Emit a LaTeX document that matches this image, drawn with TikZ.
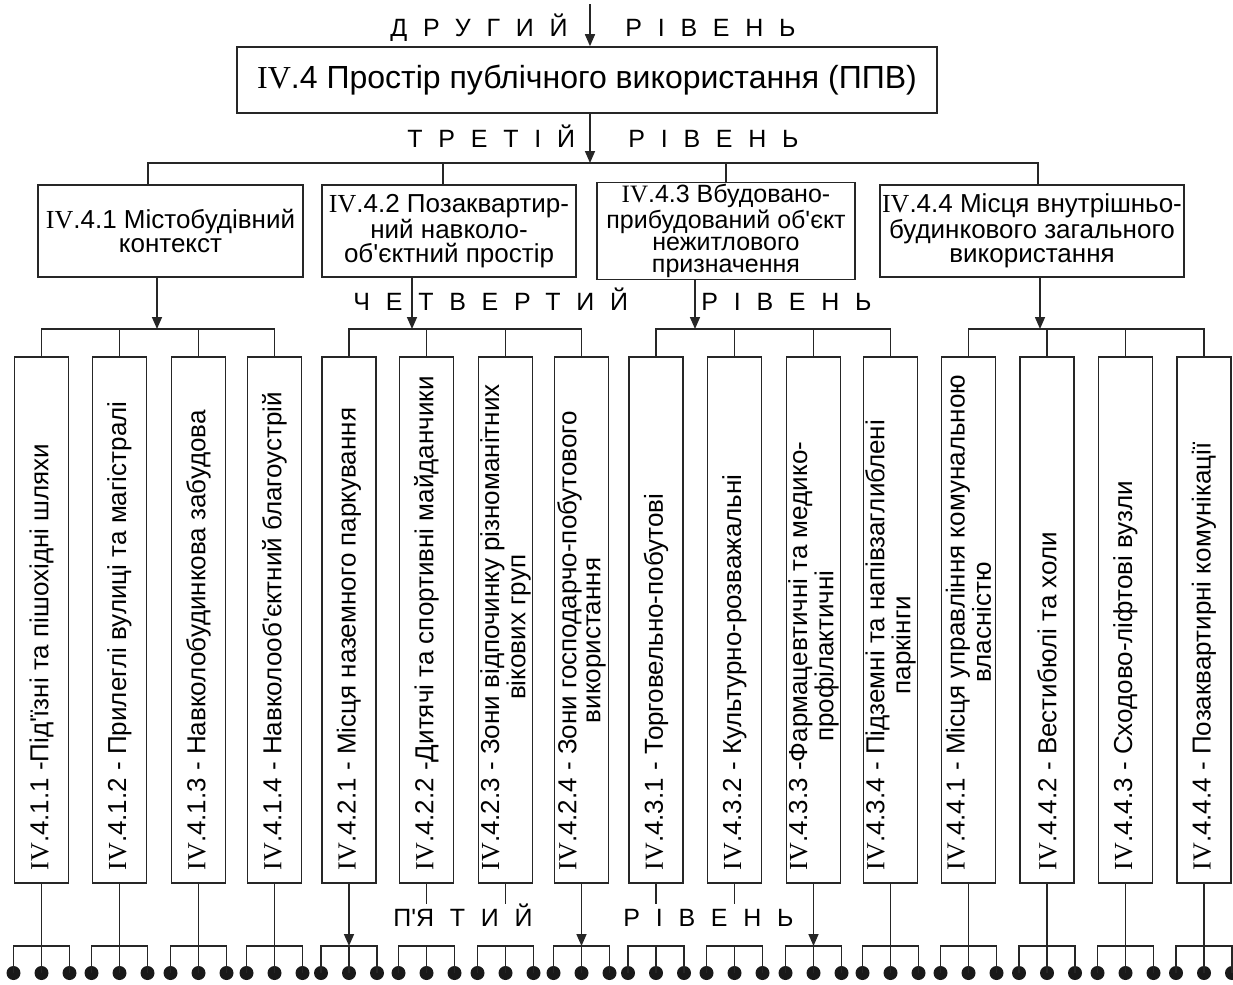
\documentclass[tikz,border=0pt]{standalone}
\usepackage{fontspec}
\setmainfont{Liberation Sans}
\newfontfamily\romfont{Liberation Serif}
\usetikzlibrary{arrows.meta}

\newcommand\rn{{\romfont IV}}
\newcommand\apos{\textquotesingle}

\tikzset{
  lw/.style={line width=0.8pt, draw=black!85},
  arr/.style={lw, -{Triangle[length=6pt,width=5pt]}},
  lvl/.style={anchor=base west, inner sep=0pt, font=\fontsize{12.5}{14}\selectfont\addfontfeature{LetterSpace=63}},
  topbox/.style={lw, minimum width=350pt, minimum height=33pt, font=\fontsize{16}{18}\selectfont},
  midbox/.style={lw, minimum height=46pt, inner sep=1pt, align=center, font=\fontsize{13}{12}\selectfont},
  subbox/.style={lw, minimum width=27pt, minimum height=263pt},
  subtxt/.style={rotate=90, anchor=west, inner xsep=6.5pt, inner ysep=0pt, align=center, font=\fontsize{13}{12}\selectfont},
  dot/.style={circle, fill=black!90, inner sep=0pt, minimum size=7pt},
}

\begin{document}
\begin{tikzpicture}[x=0.5pt,y=-0.5pt]
\useasboundingbox (0,0) rectangle (1233,985);

% level 2
\coordinate (top) at (590,4);
\node[topbox] (a) at (587,80) {\rn.4 Простір публічного використання (ППВ)};
\draw[arr] (top) -- (top |- a.north);
\node[lvl] (d2a) at (390,36) {ДРУГИЙ};
\node[lvl] (d2b) at (625,36) {РІВЕНЬ};

% level 3
\coordinate (j3) at (590,163);
\draw[arr] (j3 |- a.south) -- (j3);
\node[lvl] (d3a) at (407,147) {ТРЕТІЙ};
\node[lvl] (d3b) at (628,147) {РІВЕНЬ};
\node[midbox, minimum width=132.5pt] (b1) at (170.5,231) {\rn.4.1 Містобудівний\\контекст};
\node[midbox, minimum width=127pt] (b2) at (449,231) {\rn.4.2 Позаквартир-\\ний навколо-\\об\apos єктний простір};
\node[midbox, minimum width=129pt, font=\fontsize{12.5}{11}\selectfont] (b3) at (726,231) {\rn.4.3 Вбудовано-\\прибудований об\apos єкт\\нежитлового\\призначення};
\node[midbox, minimum width=142pt] (b4) at (1032,231) {\rn.4.4 Місця внутрішньо-\\будинкового загального\\використання};
\draw[lw] ([xshift=-11.25pt]b1.north) |- (j3) -| ([xshift=3pt]b4.north);
\draw[lw] ([xshift=-3pt]b2.north) -- ([xshift=-3pt]b2.north |- j3);
\draw[lw] (b3.north) -- (b3.north |- j3);

% level 4
\coordinate (bar4) at (0,329);
\node[lvl] (d4a) at (353,310) {ЧЕТВЕРТИЙ};
\node[lvl] (d4b) at (701,310) {РІВЕНЬ};
\foreach \n/\x/\t in {
  11/41.5/{\rn.4.1.1 -Під\apos їзні та пішохідні шляхи},
  12/119.5/{\rn.4.1.2 - Прилеглі вулиці та магістралі},
  13/198.5/{\rn.4.1.3 - Навколобудинкова забудова},
  14/274.5/{\rn.4.1.4 - Навколооб\apos єктний благоустрій},
  21/349/{\rn.4.2.1 - Місця наземного паркування},
  22/426.5/{\rn.4.2.2 -Дитячі та спортивні майданчики},
  23/505.5/{\rn.4.2.3 - Зони відпочинку різноманітних\\вікових груп},
  24/581.5/{\rn.4.2.4 - Зони господарчо-побутового\\використання},
  31/656/{\rn.4.3.1 - Торговельно-побутові},
  32/734.5/{\rn.4.3.2 - Культурно-розважальні},
  33/813.5/{\rn.4.3.3 -Фармацевтичні та медико-\\профілактичні},
  34/890.5/{\rn.4.3.4 - Підземні та напівзаглиблені\\паркінги},
  41/968.5/{\rn.4.4.1 - Місця управління комунальною\\власністю},
  42/1047/{\rn.4.4.2 - Вестибюлі та холи},
  43/1125.5/{\rn.4.4.3 - Сходово-ліфтові вузли},
  44/1204/{\rn.4.4.4 - Позаквартирні комунікації}}{
  \node[subbox] (c\n) at (\x,620) {};
  \node[subtxt] (t\n) at (c\n.south) {\t};
}
\foreach \g in {1,2,3,4} {
  \draw[lw] (c\g1.north) |- (bar4 -| c\g4.north) -- (c\g4.north);
  \foreach \k in {2,3}
    \draw[lw] (c\g\k.north) -- (c\g\k.north |- bar4);
}
\foreach \b/\s in {1/-6.75,2/-18.5,3/-15.5,4/4}
  \draw[arr] ([xshift=\s pt]b\b.south) -- ([xshift=\s pt]b\b.south |- bar4);

% level 5
\coordinate (bar5) at (0,946);
\node[lvl] (d5a) at (393,926) {П\apos ЯТИЙ};
\node[lvl] (d5b) at (623,926) {РІВЕНЬ};
\foreach \n in {11,12,13,14,34,41,42,43,44}
  \draw[lw] (c\n.south) -- (c\n.south |- bar5);
\foreach \n in {21,24,33}
  \draw[arr] (c\n.south) -- (c\n.south |- bar5);
\foreach \n in {22,23,31,32}
  \draw[lw] (c\n.south) -- ++(0pt,-10pt);
\foreach \n in {11,12,13,14,21,22,23,24,31,32,33,34,41,42,43,44} {
  \coordinate (m\n) at (c\n.south |- bar5);
  \node[dot] (dl\n) at ([shift={(-14pt,-13.5pt)}]m\n) {};
  \node[dot] (dc\n) at ([yshift=-13.5pt]m\n) {};
  \node[dot] (dr\n) at ([shift={(14pt,-13.5pt)}]m\n) {};
  \draw[lw] (dl\n.center) |- (m\n) -| (dr\n.center) (m\n) -- (dc\n.center);
}
\end{tikzpicture}
\end{document}
